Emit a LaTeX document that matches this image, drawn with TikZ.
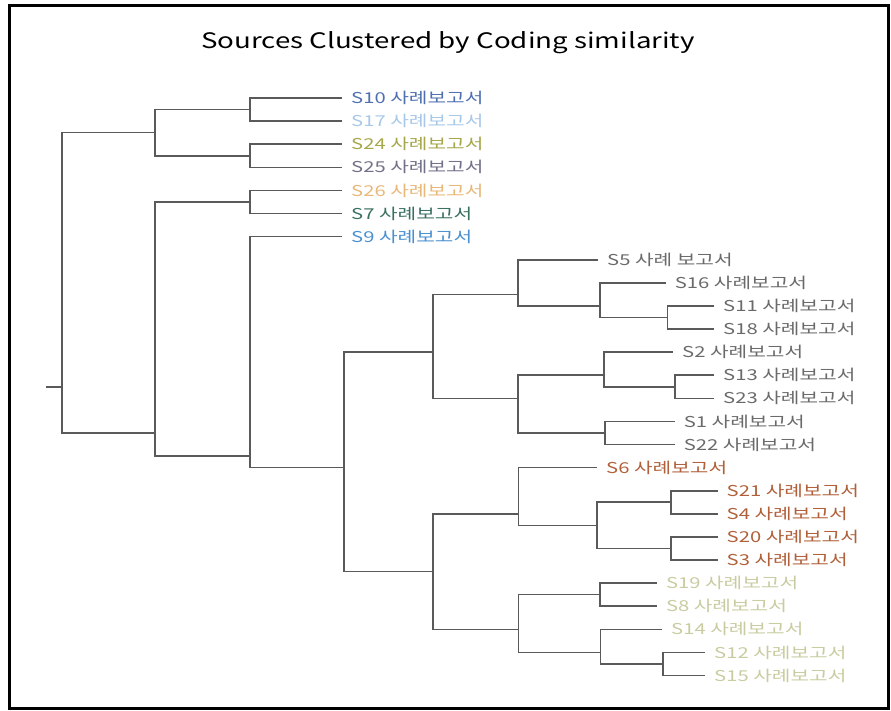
\documentclass[tikz,border=0pt]{standalone}
\usepackage{fontspec}
\newfontfamily\labelfont[FakeStretch=1.35]{Noto Sans CJK KR}
\newfontfamily\titlefont[FakeStretch=1.3]{Noto Sans CJK KR}

\definecolor{linegray}{HTML}{5A5A5A}
\definecolor{cten}{HTML}{4F6FB0}
\definecolor{cseventeen}{HTML}{A8C8E8}
\definecolor{ctwentyfour}{HTML}{A6A64A}
\definecolor{ctwentyfive}{HTML}{707088}
\definecolor{ctwentysix}{HTML}{E8B878}
\definecolor{cseven}{HTML}{3A7060}
\definecolor{cnine}{HTML}{4A90D0}
\definecolor{cgray}{HTML}{6A6A6A}
\definecolor{cbrown}{HTML}{B0603A}
\definecolor{cpale}{HTML}{C8CCA0}

\begin{document}
\begin{tikzpicture}[x=1pt, y=-1pt,
    branch/.style={draw=linegray, line width=1.6pt},
    leaf/.style={anchor=west, inner xsep=9pt, inner ysep=0pt,
        font=\labelfont\fontsize{15}{17}\selectfont}]

    \useasboundingbox (0,0) rectangle (891,710);
    \draw[line width=3pt] (9,5) rectangle (888,708.5);

    \node[font=\titlefont\fontsize{21.3}{25}\selectfont] (title) at (448,43)
        {Sources Clustered by Coding similarity};

    % leaves, 23.1 apart
    \foreach \n/\x/\i/\c/\t in {
        s10/342/0/cten/S10 사례보고서,
        s17/342/1/cseventeen/S17 사례보고서,
        s24/342/2/ctwentyfour/S24 사례보고서,
        s25/342/3/ctwentyfive/S25 사례보고서,
        s26/342/4/ctwentysix/S26 사례보고서,
        s7/342/5/cseven/S7 사례보고서,
        s9/342/6/cnine/S9 사례보고서,
        s5/598/7/cgray/S5 사례 보고서,
        s16/665.7/8/cgray/S16 사례보고서,
        s11/714/9/cgray/S11 사례보고서,
        s18/714/10/cgray/S18 사례보고서,
        s2/673/11/cgray/S2 사례보고서,
        s13/714/12/cgray/S13 사례보고서,
        s23/714/13/cgray/S23 사례보고서,
        s1/674.6/14/cgray/S1 사례보고서,
        s22/674.6/15/cgray/S22 사례보고서,
        s6/597/16/cbrown/S6 사례보고서,
        s21/717.5/17/cbrown/S21 사례보고서,
        s4/717.5/18/cbrown/S4 사례보고서,
        s20/717.5/19/cbrown/S20 사례보고서,
        s3/717.5/20/cbrown/S3 사례보고서,
        s19/656.8/21/cpale/S19 사례보고서,
        s8/656.8/22/cpale/S8 사례보고서,
        s14/662/23/cpale/S14 사례보고서,
        s12/705/24/cpale/S12 사례보고서,
        s15/705/25/cpale/S15 사례보고서}
    {
        \node[leaf, text=\c] (\n) at (\x, {98+23.1*\i}) {\t};
    }

    % joins
    \coordinate (stub) at (46, 386.75);
    \coordinate (root) at (62, 386.75);
    \coordinate (g12) at (155, 132.65);
    \coordinate (g1) at (250, 109.55);
    \coordinate (g2) at (250, 155.75);
    \coordinate (n154) at (155, 432.95);
    \coordinate (g3) at (250, 201.95);
    \coordinate (n248) at (250, 456.05);
    \coordinate (n344) at (344, 467.6);
    \coordinate (na) at (433, 352.1);
    \coordinate (n5) at (518, 294.35);
    \coordinate (n16) at (600, 305.9);
    \coordinate (n11) at (667.5, 317.45);
    \coordinate (nb) at (518, 398.3);
    \coordinate (n2) at (604, 375.2);
    \coordinate (n13) at (675, 386.75);
    \coordinate (n1) at (605, 432.95);
    \coordinate (nc) at (433, 571.55);
    \coordinate (n6) at (518.5, 513.8);
    \coordinate (nd) at (597, 525.35);
    \coordinate (n21) at (671, 502.25);
    \coordinate (n20) at (671, 548.45);
    \coordinate (ne) at (518.5, 629.3);
    \coordinate (n19) at (600, 594.65);
    \coordinate (n14) at (600.4, 652.4);
    \coordinate (n12) at (663, 663.95);

    \draw[branch] (stub) -- (root);
    \foreach \p/\c in {root/g12, root/n154, g12/g1, g12/g2, g1/s10, g1/s17,
        g2/s24, g2/s25, n154/g3, n154/n248, g3/s26, g3/s7, n248/s9, n248/n344,
        n344/na, n344/nc, na/n5, na/nb, n5/s5, n5/n16, n16/s16, n16/n11,
        n11/s11, n11/s18, nb/n2, nb/n1, n2/s2, n2/n13, n13/s13, n13/s23,
        n1/s1, n1/s22, nc/n6, nc/ne, n6/s6, n6/nd, nd/n21, nd/n20,
        n21/s21, n21/s4, n20/s20, n20/s3, ne/n19, ne/n14, n19/s19, n19/s8,
        n14/s14, n14/n12, n12/s12, n12/s15}
    {
        \draw[branch] (\p) |- (\c);
    }
\end{tikzpicture}
\end{document}
